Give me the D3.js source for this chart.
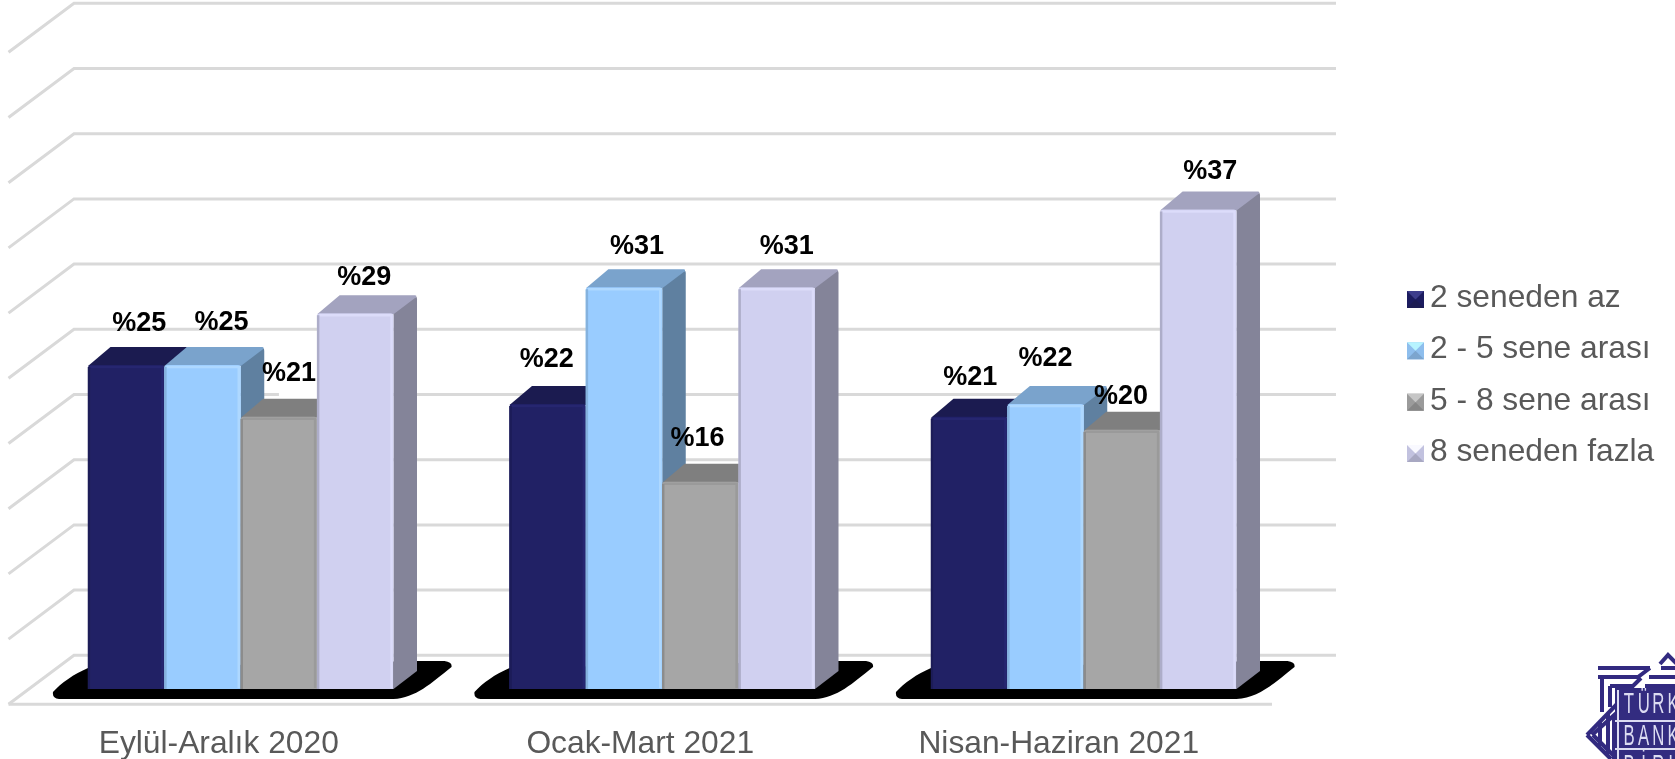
<!DOCTYPE html>
<html><head><meta charset="utf-8">
<script src="https://cdn.jsdelivr.net/npm/d3@7"></script>
<style>html,body{margin:0;padding:0;background:#fff;overflow:hidden}svg{display:block;filter:blur(0.4px)}</style>
</head><body><div id="c"></div>
<script>
const categories = ["Eylül-Aralık 2020", "Ocak-Mart 2021", "Nisan-Haziran 2021"];
const seriesNames = ["2 seneden az", "2 - 5 sene arası", "5 - 8 sene arası", "8 seneden fazla"];
const values2to = [25, 22, 21];
const values2to5 = [25, 31, 22];
const values5to8 = [21, 16, 20];
const values8plus = [29, 31, 37];
const seriesValues = [values2to, values2to5, values5to8, values8plus];
const gridTicks = d3.range(0, 55, 5);

// styling / layout only
const faceColors = ["#212165", "#99ccff", "#a6a6a6", "#d0d0f0"];
const topColors = ["#1b1b50", "#7aa3cc", "#7f7f7f", "#a3a3bf"];
const sideColors = ["#1a1a4d", "#5f80a0", "#6a6a6a", "#848499"];
const edgeLight = ["#26266f", "#aed8ff", "#9a9a9a", "#dcdcfa"];
const edgeDark = ["#1c1c58", "#85b2de", "#8c8c8c", "#adadc9"];
const labelDx = [[13, 19, 10, 9], [-1, 13, -3, 10], [1, 0, -1, 12]];
const labelDy = [[-34, -35, -36, -28], [-37, -33, -36, -33], [-32, -38, -26, -30]];
const labelBackdrop = [[0, 0, 1, 0], [0, 0, 0, 0], [0, 0, 1, 0]];
const categoryShift = [-22, -22, -25];

const W = 1675, H = 759;
const svg = d3.select("#c").append("svg").attr("width", W).attr("height", H);
const defs = svg.append("defs");
defs.append("filter").attr("id", "soft2").append("feGaussianBlur").attr("stdDeviation", 0.6);

const depthX = 23.5, depthY = 18;
const base = 689;
const y = d3.scaleLinear().domain([0, 50]).range([base, base - 648]);
const yGrid = d3.scaleLinear().domain([0, 50]).range([655.3, 3.3]);
const x0 = d3.scaleBand().domain(categories).range([30, 1294.5]).paddingInner(0.2752).paddingOuter(0.1376);
const x1 = d3.scaleBand().domain(seriesNames).range([0, x0.bandwidth()]);

// grid
const grid = svg.append("g").attr("fill", "none").attr("stroke", "#d9d9d9").attr("stroke-width", 3);
grid.selectAll("path.g").data(gridTicks).join("path").attr("class", "g")
  .attr("d", d => `M8.5,${yGrid(d) + 49}L74,${yGrid(d)}H1336`);
grid.append("path").attr("d", `M8.5,${yGrid(0) + 49}H1272`);

// white backdrops that interrupt the gridline beside some labels
const root = svg.append("g");
categories.forEach((c, ci) => {
  seriesNames.forEach((s, si) => {
    if (!labelBackdrop[ci][si]) return;
    const bx = x0(c) + x1(s) + x1.bandwidth() / 2 + labelDx[ci][si];
    const by = y(seriesValues[si][ci]) + labelDy[ci][si];
    root.append("rect").attr("x", bx - 10).attr("y", by - 22).attr("width", 90).attr("height", 38).attr("fill", "#fff");
  });
});

// floor shadow
categories.forEach(c => {
  const a = x0(c), b = a + x0.bandwidth();
  root.append("path").attr("fill", "#000").attr("d",
    `M${a},${base - 21}C${a - 14},${base - 15} ${a - 27},${base - 6} ${a - 35},${base + 3}
     Q${a - 36},${base + 9} ${a - 29},${base + 10}L${b},${base + 10}
     C${b + 22},${base + 9} ${b + 38},${base - 6} ${b + 58},${base - 22}
     Q${b + 59},${base - 27} ${b + 51},${base - 28}L${b + 24},${base - 28}Z`);
});

// bars
categories.forEach((c, ci) => {
  const g = root.append("g");
  seriesNames.forEach((s, si) => {
    const v = seriesValues[si][ci];
    const bx = x0(c) + x1(s), bw = x1.bandwidth(), ty = y(v);
    const r = 3;
    const b = g.append("g");
    b.append("path").attr("fill", sideColors[si])
      .attr("d", `M${bx + bw},${ty}L${bx + bw + depthX - 2},${ty - depthY + 1}Q${bx + bw + depthX},${ty - depthY + 1} ${bx + bw + depthX},${ty - depthY + 4}L${bx + bw + depthX},${base - depthY}L${bx + bw},${base}Z`);
    b.append("path").attr("fill", topColors[si])
      .attr("d", `M${bx},${ty + 1}L${bx + depthX - 1},${ty - depthY}H${bx + bw + depthX - 2}Q${bx + bw + depthX},${ty - depthY} ${bx + bw + depthX - 1},${ty - depthY + 2}L${bx + bw},${ty + 1}Z`);
    b.append("path").attr("fill", faceColors[si])
      .attr("d", `M${bx},${base}V${ty + r}Q${bx},${ty} ${bx + r},${ty}H${bx + bw - r}Q${bx + bw},${ty} ${bx + bw},${ty + r}V${base}Z`);
    const bev = b.append("g").attr("fill", "none").attr("stroke-width", 2.5).attr("filter", "url(#soft2)");
    bev.append("path").attr("stroke", edgeLight[si]).attr("d", `M${bx + 2},${ty + 2}H${bx + bw - 2}V${base - 1}`);
    bev.append("path").attr("stroke", edgeDark[si]).attr("d", `M${bx + 1},${base}V${ty + 2}`);
  });
});

// value labels
categories.forEach((c, ci) => {
  seriesNames.forEach((s, si) => {
    const v = seriesValues[si][ci];
    root.append("text")
      .attr("x", x0(c) + x1(s) + x1.bandwidth() / 2 + labelDx[ci][si])
      .attr("y", y(v) + labelDy[ci][si])
      .attr("text-anchor", "middle")
      .attr("font-family", "'Liberation Sans',Arial,sans-serif")
      .attr("font-weight", "700").attr("font-size", 27).attr("fill", "#000")
      .text("%" + v);
  });
});

// category labels
const sx = 1.025;
svg.append("g").selectAll("text").data(categories).join("text")
  .attr("transform", (d, i) => `translate(${x0(d) + x0.bandwidth() / 2 + categoryShift[i]},752.5) scale(${sx},1)`)
  .attr("text-anchor", "middle")
  .attr("font-family", "'Liberation Sans',Arial,sans-serif").attr("font-size", 31).attr("fill", "#595959")
  .text(d => d);

// legend
const legY = d3.scalePoint().domain(seriesNames).range([307, 461]);
const leg = svg.append("g").selectAll("g").data(seriesNames).join("g")
  .attr("transform", d => `translate(1407,${legY(d) - 16})`);
leg.each(function (d, i) {
  const g = d3.select(this), m = 17;
  const col = d3.color(faceColors[i]);
  const light = i === 0 ? d3.rgb(60, 60, 140) : col.brighter(0.5);
  const dark = col.darker(0.6);
  const mid = col.darker(0.2);
  const mk = g.append("g").attr("filter", "url(#soft2)");
  mk.append("rect").attr("width", m).attr("height", m).attr("fill", mid);
  mk.append("path").attr("fill", light).attr("d", `M0,0H${m}L${m / 2},${m / 2}Z`);
  mk.append("path").attr("fill", dark).attr("d", `M0,${m}H${m}L${m / 2},${m / 2}Z`);
  g.append("text").attr("transform", `translate(23,16) scale(${sx},1)`)
    .attr("font-family", "'Liberation Sans',Arial,sans-serif").attr("font-size", 31).attr("fill", "#595959")
    .text(d);
});

// logo
const logo = svg.append("g");
const blue = "#332c80", pale = "#dcdcf2";
logo.append("rect").attr("x", 1615).attr("y", 688).attr("width", 60).attr("height", 71).attr("fill", blue);
const lines = logo.append("g").attr("fill", "none").attr("stroke", blue).attr("stroke-width", 4).attr("filter", "url(#soft2)");
[
  "M1598,668H1650", "M1661,668H1675", "M1660,664L1668,655L1677,664",
  "M1598,677H1638L1650,668", "M1649,677H1675",
  "M1602,677V712", "M1610,686H1633L1641,678", "M1645,686H1675", "M1610,686V707",
  "M1587,735L1618,703", "M1592,735L1622,708", "M1587,735L1611,759", "M1593,735L1614,756",
  "M1600,722V746", "M1608,714V754", "M1614,716V759"
].forEach(d => lines.append("path").attr("d", d));
logo.append("g").attr("stroke", pale).attr("stroke-width", 2).attr("fill", "none")
  .selectAll("path").data(["M1615,721H1675", "M1615,749H1675", "M1618,690V759"]).join("path").attr("d", d => d);
const logoRows = [["T", "Ü", "R", "K"], ["B", "A", "N", "K", "A"], ["B", "İ", "R", "L"]];
const logoY = [713, 745, 775];
logoRows.forEach((row, ri) => row.forEach((ch, i) => {
  logo.append("text").attr("transform", `translate(${1629 + i * 14.7},${logoY[ri]}) scale(.6,1.05)`)
    .attr("text-anchor", "middle").attr("font-family", "'Liberation Sans',Arial,sans-serif")
    .attr("font-size", 28).attr("fill", pale).text(ch);
}));
</script></body></html>
